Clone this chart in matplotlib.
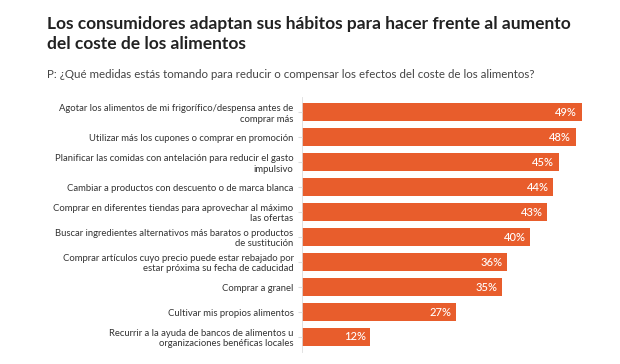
import matplotlib.pyplot as plt

# Survey answers (top to bottom) and share of respondents
labels = [
    "Agotar los alimentos de mi frigorífico/despensa antes de\ncomprar más",
    "Utilizar más los cupones o comprar en promoción",
    "Planificar las comidas con antelación para reducir el gasto\nimpulsivo",
    "Cambiar a productos con descuento o de marca blanca",
    "Comprar en diferentes tiendas para aprovechar al máximo\nlas ofertas",
    "Buscar ingredientes alternativos más baratos o productos\nde sustitución",
    "Comprar artículos cuyo precio puede estar rebajado por\nestar próxima su fecha de caducidad",
    "Comprar a granel",
    "Cultivar mis propios alimentos",
    "Recurrir a la ayuda de bancos de alimentos u\norganizaciones benéficas locales",
]
values = [49, 48, 45, 44, 43, 40, 36, 35, 27, 12]

title = "Los consumidores adaptan sus hábitos para hacer frente al aumento\ndel coste de los alimentos"
subtitle = "P: ¿Qué medidas estás tomando para reducir o compensar los efectos del coste de los alimentos?"

plt.rcParams['font.family'] = ['Lato', 'DejaVu Sans']

fig = plt.figure(figsize=(6.2, 3.64), dpi=100)
ax = fig.add_axes([0.487, 0.033, 0.463, 0.70])

ypos = list(range(len(values)))
ax.barh(ypos, values, height=0.72, color='#e85d2c')
for y, v in zip(ypos, values):
    ax.text(v - 0.8, y, f"{v}%", ha='right', va='center', color='white',
            fontsize=8, fontweight='medium')

ax.set_yticks(ypos)
ax.set_yticklabels(labels, fontsize=6.8, color='#333333', linespacing=1.2)
ax.set_xlim(0, 50.3)
ax.set_ylim(len(values) - 0.4, -0.6)
ax.set_xticks([])
for s in ['top', 'right', 'bottom']:
    ax.spines[s].set_visible(False)
ax.spines['left'].set_color('#dddddd')
ax.spines['left'].set_linewidth(0.6)
ax.tick_params(axis='y', length=3, color='#dddddd', pad=3)

fig.text(0.076, 0.955, title, fontsize=12.5, fontweight='bold', color='#222222',
         va='top', ha='left', linespacing=1.25)
fig.text(0.076, 0.795, subtitle, fontsize=8.3, color='#444444', va='center', ha='left')

fig.savefig("out.png", dpi=100)
